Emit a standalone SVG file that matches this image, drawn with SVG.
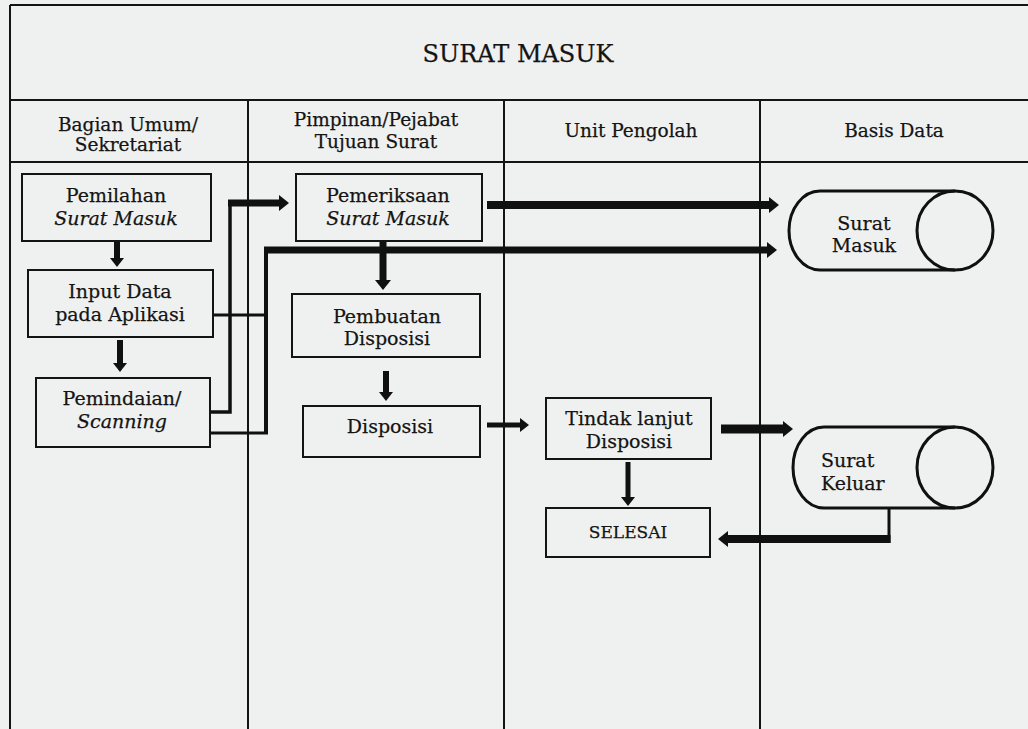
<svg xmlns="http://www.w3.org/2000/svg" width="1028" height="729" viewBox="0 0 1028 729">
  <style>
    .frame { stroke: #141414; stroke-width: 2; fill: none; }
    .box { stroke: #141414; stroke-width: 2; fill: none; }
    .db { stroke: #101010; stroke-width: 3; fill: none; }
    .t { font-family: "DejaVu Serif", "Liberation Serif", serif; font-size: 19px; fill: #141414; stroke: #141414; stroke-width: 0.25; text-anchor: middle; }
    .i { font-style: italic; }
    .title { font-size: 24px; }
    .hd { font-size: 18.5px; }
    .wire { stroke: #101010; fill: none; stroke-linecap: butt; }
  </style>
  <defs>
    <marker id="ahBig" viewBox="0 0 10 16" markerWidth="10" markerHeight="16" refX="0" refY="8" orient="auto" markerUnits="userSpaceOnUse">
      <path d="M0,0 L10,8 L0,16 z" fill="#101010"/>
    </marker>
    <marker id="ahSmall" viewBox="0 0 9 14" markerWidth="9" markerHeight="14" refX="0" refY="7" orient="auto" markerUnits="userSpaceOnUse">
      <path d="M0,0 L9,7 L0,14 z" fill="#101010"/>
    </marker>
  </defs>

  <rect x="0" y="0" width="1028" height="729" fill="#eff0f0"/>

  <!-- swimlane frame -->
  <g id="frame">
    <path class="frame" d="M10,5 H1028 M10,5 V729 M10,100 H1028 M10,162 H1028"/>
    <path class="frame" d="M248,100 V729 M504,100 V729 M760,100 V729"/>
    <text class="t title" x="518" y="62">SURAT MASUK</text>
    <text class="t hd" x="128" y="131">Bagian Umum/</text>
    <text class="t hd" x="128" y="151">Sekretariat</text>
    <text class="t hd" x="376" y="126">Pimpinan/Pejabat</text>
    <text class="t hd" x="376" y="148">Tujuan Surat</text>
    <text class="t hd" x="631" y="137">Unit Pengolah</text>
    <text class="t hd" x="894" y="137">Basis Data</text>
  </g>

  <!-- connectors -->
  <g id="connectors">
    <path class="wire" stroke-width="6" d="M117,242 V258" marker-end="url(#ahSmall)"/>
    <path class="wire" stroke-width="6" d="M120,340 V363" marker-end="url(#ahSmall)"/>
    <path class="wire" stroke-width="7" d="M383,242 V280" marker-end="url(#ahBig)"/>
    <path class="wire" stroke-width="6" d="M386,371 V392" marker-end="url(#ahSmall)"/>

    <path class="wire" stroke-width="3.5" d="M210,412 H230 V203"/>
    <path class="wire" stroke-width="7" d="M228,203 H279" marker-end="url(#ahBig)"/>

    <path class="wire" stroke-width="3" d="M213,315 H266"/>
    <path class="wire" stroke-width="3" d="M210,433 H268"/>
    <path class="wire" stroke-width="4" d="M266,434 V250"/>
    <path class="wire" stroke-width="7" d="M264,250 H767" marker-end="url(#ahBig)"/>

    <path class="wire" stroke-width="8" d="M487,205 H769" marker-end="url(#ahBig)"/>

    <path class="wire" stroke-width="5" d="M487,425 H520" marker-end="url(#ahSmall)"/>
    <path class="wire" stroke-width="9" d="M721,429 H783" marker-end="url(#ahBig)"/>
    <path class="wire" stroke-width="5" d="M628,462 V497" marker-end="url(#ahSmall)"/>

    <path class="wire" stroke-width="3" d="M889,508 V543"/>
    <path class="wire" stroke-width="8" d="M890.5,539 H728" marker-end="url(#ahBig)"/>
  </g>

  <!-- Bagian Umum / Sekretariat -->
  <g id="pemilahan">
    <rect class="box" x="22" y="174" width="189" height="67"/>
    <text class="t" x="116" y="202">Pemilahan</text>
    <text class="t i" x="116" y="225">Surat Masuk</text>
  </g>
  <g id="input-data">
    <rect class="box" x="28" y="270" width="185" height="67"/>
    <text class="t" x="120" y="298">Input Data</text>
    <text class="t" x="120" y="321">pada Aplikasi</text>
  </g>
  <g id="pemindaian">
    <rect class="box" x="36" y="378" width="174" height="69"/>
    <text class="t" x="122" y="405">Pemindaian/</text>
    <text class="t i" x="122" y="428">Scanning</text>
  </g>

  <!-- Pimpinan / Pejabat -->
  <g id="pemeriksaan">
    <rect class="box" x="296" y="174" width="186" height="67"/>
    <text class="t" x="388" y="202">Pemeriksaan</text>
    <text class="t i" x="388" y="225">Surat Masuk</text>
  </g>
  <g id="pembuatan-disposisi">
    <rect class="box" x="292" y="294" width="188" height="63"/>
    <text class="t" x="387" y="323">Pembuatan</text>
    <text class="t" x="387" y="345">Disposisi</text>
  </g>
  <g id="disposisi">
    <rect class="box" x="303" y="406" width="177" height="51"/>
    <text class="t" x="390" y="433">Disposisi</text>
  </g>

  <!-- Unit Pengolah -->
  <g id="tindak-lanjut">
    <rect class="box" x="546" y="398" width="165" height="61"/>
    <text class="t" x="629" y="425">Tindak lanjut</text>
    <text class="t" x="629" y="448">Disposisi</text>
  </g>
  <g id="selesai">
    <rect class="box" x="546" y="508" width="164" height="49"/>
    <text class="t" x="628" y="538" style="font-size:17px">SELESAI</text>
  </g>

  <!-- Basis Data -->
  <g id="db-surat-masuk">
    <path class="db" d="M955,191 H820 A31,39.5 0 0 0 820,270 H955"/>
    <ellipse class="db" cx="955" cy="230.5" rx="38" ry="39.5"/>
    <text class="t" x="864" y="230">Surat</text>
    <text class="t" x="864" y="252">Masuk</text>
  </g>
  <g id="db-surat-keluar">
    <path class="db" d="M955,427 H824 A31,40.5 0 0 0 824,508 H955"/>
    <ellipse class="db" cx="955" cy="467.5" rx="38" ry="40.5"/>
    <text class="t" x="821" y="467" style="text-anchor:start">Surat</text>
    <text class="t" x="821" y="490" style="text-anchor:start">Keluar</text>
  </g>
</svg>
